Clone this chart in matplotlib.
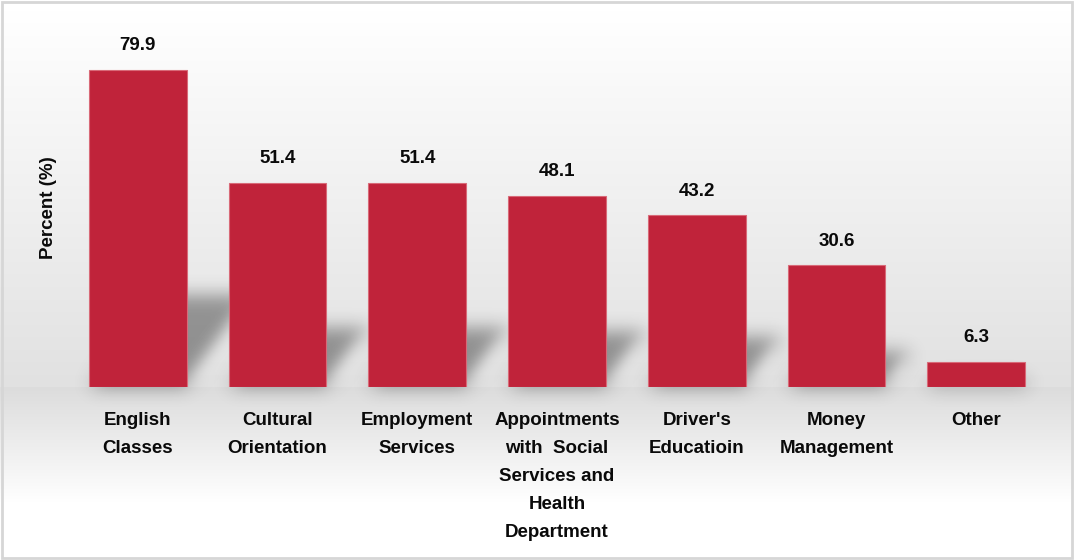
import numpy as np
import matplotlib
matplotlib.use('Agg')
import matplotlib.pyplot as plt
from matplotlib.patches import Polygon, Rectangle

plt.rcParams['font.family'] = ['Liberation Sans', 'DejaVu Sans']
plt.rcParams['font.weight'] = 'bold'

## Survey categories and the share of respondents (%)
categories = ['English\nClasses', 'Cultural\nOrientation', 'Employment\nServices',
              'Appointments\nwith  Social\nServices and\nHealth\nDepartment',
              "Driver's\nEducatioin", 'Money\nManagement', 'Other']
percent = [79.9, 51.4, 51.4, 48.1, 43.2, 30.6, 6.3]

bar_red = '#C0233A'
bar_w = 0.7
fs = 13.5


def blur_filter(sigma):
    # separable gaussian blur, used as an agg filter for the drop shadows
    r = int(3 * sigma)
    k = np.exp(-0.5 * (np.arange(-r, r + 1) / sigma) ** 2)
    k /= k.sum()

    def filt(im, dpi):
        pad = np.pad(im, ((2 * r, 2 * r), (2 * r, 2 * r), (0, 0)))
        h, w = pad.shape[:2]
        tmp = np.zeros_like(pad)
        for i, kv in enumerate(k):
            tmp[r:h - r] += kv * pad[i:h - 2 * r + i]
        out = np.zeros_like(pad)
        for i, kv in enumerate(k):
            out[:, r:w - r] += kv * tmp[:, i:w - 2 * r + i]
        return out, -2 * r, -2 * r
    return filt


fig = plt.figure(figsize=(10.74, 5.6), dpi=100)

# background: soft grey gradient towards the floor line, fading out below
H = 560
rows = np.arange(H)
base_px = 387
shade = np.where(rows < base_px,
                 255 - 30 * np.clip((rows - 10) / (base_px - 10), 0, 1),
                 220 + 35 * np.clip((rows - base_px) / 115, 0, 1)) / 255
bg = np.repeat(shade[:, None], 3, axis=1)[:, None, :]
bg_ax = fig.add_axes([0, 0, 1, 1], zorder=-1)
bg_ax.imshow(bg, aspect='auto', extent=(0, 1, 0, 1))
bg_ax.axis('off')
fig.patches.append(Rectangle((0.002, 0.003), 0.996, 0.993, transform=fig.transFigure,
                             fill=False, edgecolor='#d6d6d6', lw=2))

ax = fig.add_axes([68 / 1074, 173 / 560, 978 / 1074, 367 / 560])
ax.patch.set_visible(False)
x = np.arange(len(categories))
ax.set_xlim(-0.5, len(categories) - 0.5)
ax.set_ylim(0, 92.4)

# soft shadows cast up and to the right of each bar
px_x = 978 / len(categories)
px_y = 367 / 92.4
for xi, v in zip(x, percent):
    sh = 0.29 * v
    dx = 0.75 * sh * px_y / px_x
    x0, x1 = xi - bar_w / 2, xi + bar_w / 2
    poly = Polygon([(x0, 0), (x1, 0), (x1 + dx, sh), (x0 + dx, sh)],
                   closed=True, facecolor='black', edgecolor='none', alpha=0.37,
                   zorder=1, clip_on=False)
    poly.set_agg_filter(blur_filter(9))
    ax.add_patch(poly)

bars = ax.bar(x, percent, width=bar_w, color=bar_red, edgecolor='#d86a78',
              linewidth=0.8, zorder=2)
for b, v in zip(bars, percent):
    ax.annotate(f'{v:.1f}', (b.get_x() + b.get_width() / 2, v),
                xytext=(0, 17.5), textcoords='offset points', ha='center',
                va='center', fontsize=fs, fontweight='bold', color='#0a0a0a')

ax.set_xticks(x)
ax.set_xticklabels(categories, fontsize=fs, fontweight='bold', color='#0a0a0a',
                   linespacing=1.85, va='top')
ax.tick_params(axis='x', length=0, pad=18)
ax.set_yticks([])
ax.set_ylabel('Percent (%)', fontsize=fs, fontweight='bold', color='#0a0a0a')
ax.yaxis.set_label_coords(-11 / 978, (387 - 208) / 367)
for s in ax.spines.values():
    s.set_visible(False)

fig.savefig('out.png', dpi=100)
